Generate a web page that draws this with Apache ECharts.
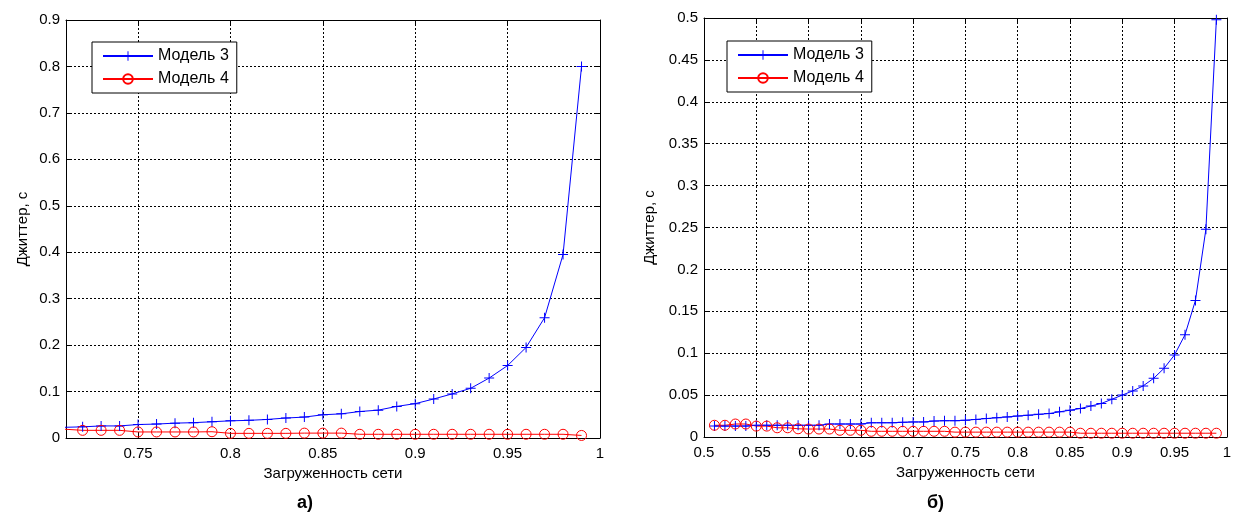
<!DOCTYPE html>
<html><head><meta charset="utf-8">
<script src="https://cdn.jsdelivr.net/npm/echarts@6/dist/echarts.min.js"></script>
<style>html,body{margin:0;padding:0;background:#fff}#c{width:1234px;height:514px}</style>
</head><body><div id="c"></div>
<script>
// ---- data ----
const leftX = [0.71,0.72,0.73,0.74,0.75,0.76,0.77,0.78,0.79,0.80,0.81,0.82,0.83,0.84,0.85,0.86,0.87,0.88,0.89,0.90,0.91,0.92,0.93,0.94,0.95,0.96,0.97,0.98,0.99];
const leftModel3 = [0.023,0.024,0.026,0.026,0.029,0.030,0.032,0.033,0.035,0.037,0.038,0.040,0.043,0.045,0.050,0.052,0.057,0.060,0.068,0.074,0.084,0.095,0.107,0.129,0.156,0.195,0.259,0.395,0.80];
const leftModel4 = [0.019,0.0165,0.0165,0.0165,0.013,0.013,0.013,0.013,0.0135,0.010,0.010,0.010,0.010,0.0105,0.0105,0.0105,0.008,0.008,0.008,0.008,0.008,0.008,0.008,0.008,0.008,0.008,0.008,0.008,0.0055];
const rightX = [0.51,0.52,0.53,0.54,0.55,0.56,0.57,0.58,0.59,0.60,0.61,0.62,0.63,0.64,0.65,0.66,0.67,0.68,0.69,0.70,0.71,0.72,0.73,0.74,0.75,0.76,0.77,0.78,0.79,0.80,0.81,0.82,0.83,0.84,0.85,0.86,0.87,0.88,0.89,0.90,0.91,0.92,0.93,0.94,0.95,0.96,0.97,0.98,0.99];
const rightModel3 = [0.013,0.013,0.013,0.013,0.014,0.014,0.014,0.014,0.014,0.014,0.014,0.0155,0.0155,0.0155,0.0155,0.017,0.017,0.017,0.0175,0.018,0.018,0.019,0.0195,0.0195,0.020,0.021,0.022,0.023,0.024,0.025,0.026,0.027,0.028,0.030,0.032,0.034,0.037,0.040,0.045,0.050,0.055,0.061,0.070,0.082,0.098,0.122,0.163,0.248,0.498];
const rightModel4 = [0.014,0.014,0.0155,0.0155,0.013,0.013,0.011,0.011,0.0098,0.0095,0.0095,0.0095,0.008,0.008,0.008,0.0068,0.0068,0.0068,0.0068,0.0068,0.0068,0.0068,0.0068,0.0058,0.0058,0.0058,0.0058,0.0058,0.0058,0.0058,0.0058,0.0058,0.0058,0.0058,0.0058,0.0045,0.0045,0.0045,0.0045,0.0045,0.0045,0.0045,0.0045,0.0045,0.0045,0.0045,0.0045,0.0045,0.0045];
const leftXTicks = [0.75,0.8,0.85,0.9,0.95,1];
const seriesNames = ['Модель 3','Модель 4'];
const xName = 'Загруженность сети';
const yName = 'Джиттер, с';
const panelLabels = ['а)','б)'];

// ---- styles ----
const FONT = 'Liberation Sans, Arial, sans-serif';
const plusPath = 'path://M0,4.5h10v1h-10z M4.5,0h1v10h-1z';
const gridLine = {show:true, lineStyle:{color:'#000', type:[2,2], width:1}};
const axisLine = {show:true, onZero:false, lineStyle:{color:'#000', width:1}};
const tick = {show:true, inside:true, length:5, lineStyle:{color:'#000'}};
const lbl = {color:'#000', fontSize:15, fontFamily:FONT};

function pairs(xs, ys){ return xs.map((x,i)=>[x, ys[i]]); }

function xAxes(grid, min, max, interval, custom){
  const base = {type:'value', gridIndex:grid, min:min, max:max};
  if (interval) base.interval = interval;
  const bottom = Object.assign({}, base, {
    position:'bottom', axisLine:axisLine,
    axisTick: Object.assign({}, tick, custom?{customValues:custom}:{}),
    axisLabel: Object.assign({}, lbl, {margin:8, showMinLabel:true, showMaxLabel:true}, custom?{customValues:custom}:{}),
    splitLine: gridLine,
    name: xName, nameLocation:'middle', nameGap:28,
    nameTextStyle:{color:'#000', fontSize:15, fontFamily:FONT}
  });
  const top = Object.assign({}, base, {
    position:'top', axisLine:axisLine,
    axisTick: Object.assign({}, tick, custom?{customValues:custom}:{}),
    axisLabel:{show:false}, splitLine:{show:false}
  });
  return [bottom, top];
}
function yAxes(grid, max, interval, gap){
  const base = {type:'value', gridIndex:grid, min:0, max:max, interval:interval};
  const left = Object.assign({}, base, {
    position:'left', axisLine:axisLine, axisTick:tick,
    axisLabel: Object.assign({}, lbl, {margin:6}),
    splitLine: gridLine,
    name: yName, nameLocation:'middle', nameGap:gap,
    nameTextStyle:{color:'#000', fontSize:15, fontFamily:FONT}
  });
  const right = Object.assign({}, base, {
    position:'right', axisLine:axisLine, axisTick:tick,
    axisLabel:{show:false}, splitLine:{show:false}
  });
  return [left, right];
}

function m3(xi, yi, xs, ys){
  return {name:seriesNames[0], type:'line', xAxisIndex:xi, yAxisIndex:yi, data:pairs(xs,ys),
    symbol:plusPath, symbolSize:10, showAllSymbol:true, clip:true, animation:false,
    lineStyle:{color:'#0000ff', width:1}, itemStyle:{color:'#0000ff'}};
}
function m4(xi, yi, xs, ys){
  return {name:seriesNames[1], type:'line', xAxisIndex:xi, yAxisIndex:yi, data:pairs(xs,ys),
    symbol:'circle', symbolSize:10, showAllSymbol:true, clip:true, animation:false,
    lineStyle:{color:'#ff0000', width:1},
    itemStyle:{color:'rgba(255,255,255,0)', borderColor:'#ff0000', borderWidth:1}};
}

const legendBase = {orient:'vertical', itemWidth:50, itemHeight:12, itemGap:7,
  padding:[6,8,6,10], borderColor:'#000', borderWidth:1, backgroundColor:'#fff',
  textStyle:{color:'#000', fontSize:16, fontFamily:FONT}, data:seriesNames, selectedMode:false};

const lx = xAxes(0, 0.711, 1, null, leftXTicks);
const rx = xAxes(1, 0.5, 1, 0.05, null);
const ly = yAxes(0, 0.9, 0.1, 36);
const ry = yAxes(1, 0.5, 0.05, 47);

const option = {
  animation:false,
  backgroundColor:'#fff',
  grid:[
    {left:66, top:20, width:534, height:418},
    {left:704, top:18, width:527, height:419}
  ],
  xAxis:[lx[0], lx[1], rx[0], rx[1]],
  yAxis:[ly[0], ly[1], ry[0], ry[1]],
  legend:[
    Object.assign({}, legendBase, {left:92, top:42}),
    Object.assign({}, legendBase, {left:727, top:41})
  ],
  title:[
    {text:panelLabels[0], left:297, top:494, textStyle:{fontSize:18, fontWeight:'bold', color:'#000', fontFamily:FONT}, padding:0},
    {text:panelLabels[1], left:927, top:494, textStyle:{fontSize:18, fontWeight:'bold', color:'#000', fontFamily:FONT}, padding:0}
  ],
  series:[
    m3(0,0,leftX,leftModel3), m4(0,0,leftX,leftModel4),
    m3(2,2,rightX,rightModel3), m4(2,2,rightX,rightModel4)
  ]
};
const chart = echarts.init(document.getElementById('c'), null, {renderer:'canvas'});
chart.setOption(option);
</script></body></html>
